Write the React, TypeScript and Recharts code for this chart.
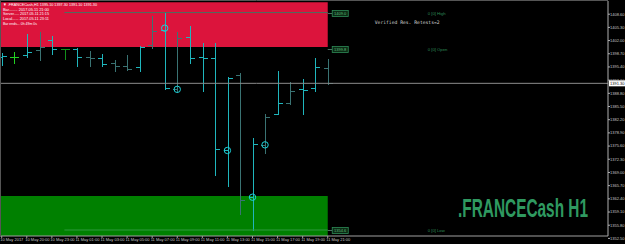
import React from "react";
import {
  ComposedChart,
  Bar,
  Scatter,
  XAxis,
  YAxis,
  ReferenceArea,
  ReferenceLine,
  ReferenceDot,
} from "recharts";

// hourly FRANCECash bars, 10 May 18:00 .. 11 May 21:00
const opens = [1397.9, 1397.8, 1398.4, 1399.6, 1402.1, 1399.8, 1399.8, 1397.9, 1397.6, 1396.3, 1395.7, 1395.3, 1400.9, 1404.6, 1389.8, 1402.8, 1397.8, 1397.6, 1374.5, 1393.3, 1362.8, 1375.9, 1383.6, 1386.3, 1389.8, 1390.1, 1395.1];
const highs = [1398.8, 1399.2, 1403.6, 1404.1, 1403.1, 1399.8, 1400.1, 1399.5, 1398.6, 1397.1, 1398.4, 1400.6, 1408.1, 1409.0, 1404.1, 1405.6, 1401.3, 1401.3, 1392.8, 1393.8, 1377.6, 1383.6, 1394.4, 1391.6, 1392.4, 1397.6, 1397.3];
const lows = [1395.9, 1396.3, 1397.8, 1397.1, 1398.6, 1397.4, 1395.7, 1395.6, 1395.7, 1394.5, 1394.6, 1394.4, 1400.1, 1390.0, 1389.2, 1396.3, 1389.5, 1368.4, 1365.5, 1358.6, 1354.6, 1373.8, 1383.6, 1386.1, 1383.6, 1389.5, 1391.1];
const closes = [1398.1, 1397.8, 1399.2, 1400.5, 1399.8, 1399.8, 1397.9, 1397.6, 1396.1, 1395.6, 1394.9, 1400.5, 1404.5, 1390.1, 1402.6, 1397.6, 1397.7, 1374.8, 1392.7, 1362.1, 1376.1, 1383.0, 1386.5, 1389.5, 1389.7, 1395.3, 1391.3];
// b = bright, d = dim, g = doji green, k = doji dark green
const tones = "b g b d b k b d b d d b d b d b b b b d b d b d b b d".split(" ");

const circleBars = [13, 14, 18, 20, 21];
const circlePrices = [1405.1, 1389.8, 1374.5, 1362.8, 1375.9];

const tickBars = [0, 2, 4, 6, 8, 10, 12, 14, 16, 18, 20, 22, 24, 26];
const tickLabels = ["10 May 2017", "10 May 20:00", "10 May 23:00", "11 May 01:00", "11 May 03:00", "11 May 05:00", "11 May 07:00", "11 May 09:00", "11 May 11:00", "11 May 13:00", "11 May 15:00", "11 May 17:00", "11 May 19:00", "11 May 21:00"];
const yTicks = [1408.6, 1405.3, 1402.0, 1398.7, 1395.4, 1392.1, 1388.8, 1385.5, 1382.2, 1378.9, 1375.6, 1372.3, 1369.0, 1365.7, 1362.4, 1359.1, 1355.8, 1352.5];

const current = 1391.3;
const resZone = [1400.4, 1411.6];
const supZone = [1353.1, 1363.1];
const levelNames = ["High", "Open", "Low"];
const levelPrices = [1409.0, 1399.8, 1354.6];
const dayStartBar = 5;

const X_DOMAIN = [-0.136, 48.35];
const Y_DOMAIN = [1353.1, 1411.9];

const BRIGHT = "#1fb6bd";
const DIM = "#3a7373";
const LEVEL = "#4a7060";
const LABEL_GREEN = "#2e8b57";

const bars = opens.map((o, i) => ({
  i,
  o,
  h: highs[i],
  l: lows[i],
  c: closes[i],
  tone: tones[i],
  range: [lows[i], highs[i]],
}));
const circles = circleBars.map((i, k) => ({ i, p: circlePrices[k] }));

const toneColor = (t: string) =>
  t === "g" ? "#22d022" : t === "k" ? "#12901a" : t === "d" ? DIM : BRIGHT;

const OhlcShape = (props: any) => {
  const { x, y, width, height, payload } = props;
  if (!payload) return null;
  const top = Math.min(y, y + height);
  const bot = Math.max(y, y + height);
  const span = payload.h - payload.l || 1;
  const py = (p: number) => Math.round(top + ((payload.h - p) / span) * (bot - top)) + 0.5;
  const cx = Math.round(x + width / 2) + 0.5;
  const col = toneColor(payload.tone);
  return (
    <g stroke={col} strokeWidth={1}>
      <line x1={cx} x2={cx} y1={Math.round(top)} y2={Math.round(bot) + 1} />
      <line x1={cx - 4.5} x2={cx} y1={py(payload.o)} y2={py(payload.o)} />
      <line x1={cx} x2={cx + 4.5} y1={py(payload.c)} y2={py(payload.c)} />
    </g>
  );
};

const CircleShape = (props: any) => (
  <circle cx={props.cx} cy={props.cy} r={3.2} fill="none" stroke="#1dd3da" strokeWidth={1} />
);

const LevelTag = (name: string, price: number) => (props: any) => {
  const { cx, cy } = props;
  const yy = Math.round(cy) + 0.5;
  return (
    <g>
      <line x1={cx} x2={cx + 4.5} y1={yy} y2={yy} stroke={LEVEL} />
      <rect x={cx + 4.5} y={yy - 3} width={16} height={6} fill="#0b2a14" stroke={LABEL_GREEN} strokeWidth={0.8} />
      <text x={cx + 12.5} y={yy + 1.5} fontSize={4} fill="#5fbf7f" textAnchor="middle" fontFamily="Liberation Sans, sans-serif">
        {price.toFixed(1)}
      </text>
      <text x={cx + 100} y={yy + 1.5} fontSize={4.2} fill={LABEL_GREEN} fontFamily="Liberation Sans, sans-serif">
        {`0 [0] ${name}`}
      </text>
      {name === "High" && (
        <text x={cx + 47} y={yy + 10} fontSize={4.7} fill="#d0d0d0" fontFamily="DejaVu Sans Mono, monospace">
          Verified Res. Retests=2
        </text>
      )}
    </g>
  );
};

const PriceTag = (props: any) => {
  const { cx, cy } = props;
  return (
    <g>
      <rect x={cx + 1} y={cy - 3} width={16} height={6} fill="#ffffff" />
      <text x={cx + 2} y={cy + 1.6} fontSize={4} fill="#000" fontFamily="Liberation Sans, sans-serif">
        {current.toFixed(2)}
      </text>
    </g>
  );
};

const XTick = (props: any) => {
  const { x, y, payload } = props;
  const k = tickBars.indexOf(payload.value);
  return (
    <text x={x - 1.5} y={y + 3.2} fontSize={4} fill="#c8c8c8" fontFamily="Liberation Sans, sans-serif">
      {tickLabels[k]}
    </text>
  );
};

const last = bars[bars.length - 1];
const header = [
  `\u25BC .FRANCECash,H1  ${last.o.toFixed(2)} ${last.h.toFixed(2)} ${last.l.toFixed(2)} ${last.c.toFixed(2)}`,
  "Bar........ 2017.05.11 21:00",
  "Server..... 2017.05.11 21:15",
  "Local...... 2017.05.11 23:11",
  "Bar ends... 0h 49m 0s",
];

export default function App() {
  return (
    <div style={{ position: "fixed", left: 0, top: 0, width: 625, height: 244, background: "#000", overflow: "hidden" }}>
      <ComposedChart
        width={625}
        height={244}
        data={bars}
        margin={{ top: 1, right: 0, bottom: 0, left: 0 }}
      >
        <XAxis
          dataKey="i"
          type="number"
          domain={X_DOMAIN}
          ticks={tickBars}
          interval={0}
          allowDataOverflow
          height={8}
          tickSize={2}
          tickMargin={0}
          tick={<XTick />}
          axisLine={{ stroke: "#a0a0a0" }}
          tickLine={{ stroke: "#a0a0a0" }}
        />
        <YAxis
          orientation="right"
          domain={Y_DOMAIN}
          ticks={yTicks}
          interval={0}
          allowDataOverflow
          width={17}
          tickSize={2}
          tickMargin={0}
          tickFormatter={(v: number) => v.toFixed(2)}
          tick={{ fill: "#c8c8c8", fontSize: 4, fontFamily: "Liberation Sans, sans-serif" }}
          axisLine={{ stroke: "#b0b0b0" }}
          tickLine={{ stroke: "#b0b0b0" }}
        />
        <ReferenceArea x1={X_DOMAIN[0]} x2={bars.length - 1} y1={resZone[0]} y2={resZone[1]} fill="#dc143c" fillOpacity={1} ifOverflow="hidden" />
        <ReferenceArea x1={X_DOMAIN[0]} x2={bars.length - 1} y1={supZone[0]} y2={supZone[1]} fill="#008000" fillOpacity={1} ifOverflow="hidden" />
        <ReferenceLine y={current} stroke="#8c8c8c" strokeWidth={1} />
        {levelPrices.map((p, k) =>
          levelNames[k] === "Open" ? null : (
            <ReferenceLine
              key={`seg${k}`}
              segment={[{ x: dayStartBar, y: p }, { x: bars.length - 1, y: p }]}
              stroke={levelNames[k] === "Low" ? "#2f9a3f" : LEVEL}
              strokeWidth={1}
            />
          )
        )}
        <Bar dataKey="range" barSize={9} shape={<OhlcShape />} isAnimationActive={false} />
        <Scatter data={circles} dataKey="p" shape={<CircleShape />} isAnimationActive={false} />
        {levelPrices.map((p, k) => (
          <ReferenceDot
            key={`tag${k}`}
            x={bars.length - 1}
            y={p}
            ifOverflow="visible"
            shape={LevelTag(levelNames[k], p)}
          />
        ))}
        <ReferenceDot x={X_DOMAIN[1]} y={current} ifOverflow="visible" shape={<PriceTag />} />
      </ComposedChart>
      <svg width={625} height={244} style={{ position: "absolute", left: 0, top: 0, pointerEvents: "none" }}>
        <line x1={0} x2={608} y1={0.5} y2={0.5} stroke="#555" />
        <line x1={0.5} x2={0.5} y1={0} y2={236} stroke="#555" />
        {header.map((t, k) => (
          <text
            key={k}
            x={3}
            y={6 + k * 4.7}
            fontSize={4.2}
            fill="#ffffff"
            fontFamily="Liberation Sans, sans-serif"
            textLength={k === 0 ? 94 : k === 4 ? 34 : 46}
            lengthAdjust="spacingAndGlyphs"
          >
            {t}
          </text>
        ))}
        <text
          transform="translate(458 217) scale(0.616 1)"
          fontSize={25}
          fontWeight="bold"
          fill="#2f9960"
          fontFamily="Liberation Sans, Arial, sans-serif"
        >
          .FRANCECash H1
        </text>
      </svg>
    </div>
  );
}
